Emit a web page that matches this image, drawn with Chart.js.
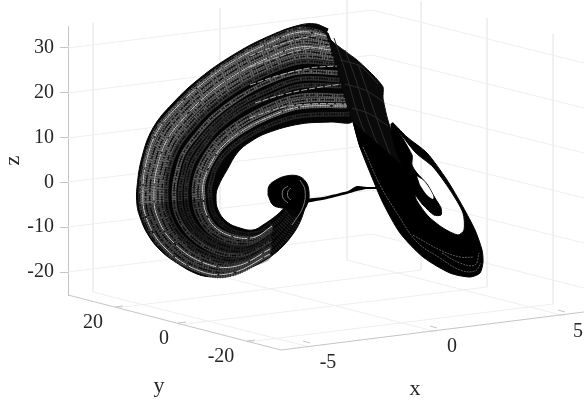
<!DOCTYPE html>
<html>
<head>
<meta charset="utf-8">
<style>
  html, body { margin: 0; background: #fff; }
  canvas { display: block; }
</style>
<script src="https://cdn.jsdelivr.net/npm/chart.js@4"></script>
</head>
<body>
<canvas id="attractor" width="584" height="404"></canvas>
<script>
// axis ticks and labels
const zTicks = [-20, -10, 0, 10, 20, 30];
const yTickLabels = ['20', '0', '-20'];
const xTickLabels = ['-5', '0', '5'];

// the 3d box, as projected on the picture plane [u, v]
const yTickSpots = [[93, 323], [164, 339], [221, 357]];
const xTickSpots = [[328, 363], [452, 347], [578, 332]];
const wallLines = [
  [[68, 48], [372, 10], [584, 63]],
  [[68, 93], [372, 55], [584, 108]],
  [[68, 138], [372, 100], [584, 153]],
  [[68, 182], [372, 145], [584, 198]],
  [[68, 227], [372, 190], [584, 243]],
  [[68, 272], [372, 234], [584, 288]],
  [[93, 23], [93, 292]], [[220, 8], [220, 276]], [[347, -8], [347, 260]],
  [[421, 1], [421, 270]], [[487, 18], [487, 287]], [[553, 34], [553, 304]],
  [[115, 308], [421, 270]], [[178, 325], [487, 287]], [[247, 342], [553, 304]],
  [[93, 292], [310, 347]], [[220, 276], [437, 332]], [[347, 260], [565, 316]]
];
const boxEdges = [
  [[68, 295], [281, 350], [584, 312]],
  [[115, 307], [123, 306]], [[178, 323], [186, 322]], [[247, 341], [255, 340]],
  [[310, 343], [303, 341]], [[437, 328], [430, 326]], [[565, 312], [558, 310]]
];

// outlines of the attractor
const bigWing = [
  [325, 28], [316, 24], [300, 25], [267, 37], [233, 55], [200, 78], [173, 103], [153, 128], [142, 157],
  [137, 187], [137, 205], [140, 217], [147, 233], [160, 250], [177, 263], [197, 274], [213, 277],
  [230, 276], [250, 268], [270, 257], [283, 246], [293, 234], [300, 222], [305, 208], [308, 198],
  [285, 208], [277, 215], [263, 225], [253, 230], [240, 228], [227, 222], [218, 210], [216, 197],
  [218, 187], [227, 170], [238, 152], [250, 142], [267, 133], [300, 124], [330, 122], [353, 121],
  [346, 97], [337, 57], [328, 33]
];
const wingPeak = [[328, 30], [316, 25.5], [300, 26.5], [284, 31]];
const lowerShade = [
  [139, 205], [147, 233], [160, 250], [177, 263], [197, 274], [213, 277], [230, 276], [250, 268],
  [272, 256], [272, 222], [253, 230], [240, 228], [227, 222], [218, 210], [216, 197]
];
const foldBand = [
  [317, 24], [333, 42], [357, 60], [373, 75], [383, 87], [383, 98], [387, 117], [391, 130],
  [397, 150], [404, 172], [405, 190], [387, 200], [373, 173], [360, 147], [353, 122], [345, 97], [335, 57], [327, 33]
];
const rightRing = [
  [353, 122], [360, 147], [371, 175], [383, 203], [400, 233], [423, 257], [450, 273], [470, 277],
  [480, 273], [483, 262], [482, 250], [475, 230], [463, 207], [447, 180], [427, 153], [407, 137],
  [393, 123],
  [415, 152], [433, 167], [450, 190], [463, 213], [464, 230], [458, 235], [443, 228], [428, 216],
  [417, 201], [415, 195], [423, 205], [434, 215], [441, 215], [441, 208], [435, 198], [427, 184],
  [417, 173], [412, 165], [412, 155],
  [393, 123], [391, 124], [392, 135], [396, 150], [402, 165]
];
const ringSlit = [[417, 176], [425, 182], [433, 195], [433, 199], [427, 195], [420, 185]];
const spiralBlob = [
  [268, 195], [269, 186], [276, 180], [286, 176], [298, 176], [306, 182], [309, 192], [308, 202],
  [303, 210], [292, 209], [282, 208], [273, 205], [268, 195]
];
const ribbon = [
  [305, 199], [323, 197], [340, 193], [348, 191], [357, 186], [367, 187], [380, 187],
  [378, 189], [367, 189], [357, 191], [347, 194], [327, 199], [305, 203]
];

// strands seen in the big wing, outer edge first
const wingStrands = [
  [[326, 33], [300, 28], [267, 40], [233, 58], [201, 81], [175, 106], [155, 130], [145, 158], [140, 187], [143, 217], [162, 249], [199, 272], [231, 275], [270, 255]],
  [[327, 36], [300, 32], [267, 44], [234, 61], [202, 84], [176, 108], [157, 132], [147, 159], [143, 188], [146, 217], [165, 248], [200, 271], [232, 273], [270, 254]],
  [[328, 41], [300, 37], [267, 49], [234, 66], [203, 88], [179, 112], [161, 135], [151, 161], [146, 188], [149, 216], [168, 247], [203, 269], [234, 270], [270, 253]],
  [[330, 45], [300, 42], [268, 53], [235, 70], [205, 92], [181, 115], [164, 137], [155, 163], [150, 189], [153, 216], [172, 245], [205, 266], [235, 268], [270, 251]],
  [[331, 50], [300, 47], [268, 58], [235, 75], [206, 96], [183, 119], [167, 140], [158, 164], [154, 189], [157, 216], [175, 244], [207, 264], [237, 266], [270, 249]],
  [[332, 55], [300, 52], [268, 63], [236, 80], [207, 100], [185, 122], [170, 143], [162, 166], [158, 190], [161, 216], [178, 243], [209, 262], [238, 263], [271, 247]],
  [[334, 59], [300, 57], [268, 68], [237, 84], [209, 105], [188, 126], [173, 146], [166, 168], [162, 190], [165, 215], [182, 241], [212, 260], [240, 261], [271, 245]],
  [[335, 64], [300, 62], [268, 73], [237, 89], [210, 109], [190, 130], [177, 148], [169, 169], [166, 191], [169, 215], [185, 240], [214, 257], [241, 259], [271, 243]],
  [[338, 73], [300, 72], [268, 82], [238, 98], [213, 117], [195, 137], [183, 154], [177, 173], [174, 192], [177, 215], [192, 237], [219, 253], [244, 254], [271, 240]],
  [[340, 80], [300, 79], [269, 90], [239, 105], [215, 124], [198, 143], [188, 158], [183, 175], [180, 193], [183, 214], [197, 235], [222, 249], [246, 250], [271, 237]],
  [[342, 86], [300, 86], [269, 97], [240, 111], [217, 129], [202, 148], [193, 162], [188, 177], [186, 193], [189, 214], [202, 233], [226, 246], [249, 247], [271, 234]],
  [[344, 96], [300, 96], [269, 106], [241, 121], [219, 138], [206, 155], [199, 168], [195, 181], [194, 194], [197, 213], [209, 231], [230, 242], [252, 242], [271, 230]],
  [[346, 100], [300, 101], [269, 111], [241, 125], [221, 142], [208, 158], [202, 170], [199, 182], [198, 195], [201, 213], [212, 229], [232, 239], [253, 240], [272, 229]],
  [[347, 106], [300, 107], [269, 117], [242, 131], [222, 147], [211, 163], [206, 174], [203, 184], [203, 195], [206, 213], [216, 228], [235, 237], [255, 237], [272, 226]],
  [[350, 114], [300, 116], [270, 125], [243, 139], [225, 154], [215, 169], [212, 179], [210, 187], [210, 196], [213, 212], [223, 225], [239, 233], [258, 233], [272, 223]]
];
const strandTones = ['#606060', '#787878', '#6c6c6c', '#707070', '#747474', '#6c6c6c', '#666666', '#3c3c3c', '#646464', '#343434', '#343434', '#5c5c5c', '#686868', '#707070', '#2a2a2a'];
const lightStrands = [1, 4, 13];

// brighter streaks at the top of the wing
const topStreaks = [
  [[250, 56], [270, 48], [295, 40], [322, 34]],
  [[250, 67], [275, 58], [300, 50], [330, 46]],
  [[250, 85], [280, 75], [310, 68], [338, 66]],
  [[255, 103], [285, 94], [315, 88], [342, 84]],
  [[250, 118], [280, 108], [310, 104], [346, 104]]
];

// dark end of the wing running into the spiral
const tailStrands = [
  [[270, 254], [285, 240], [299, 221]],
  [[271, 247], [284, 234], [296, 218]],
  [[271, 240], [283, 228], [293, 216]],
  [[271, 233], [282, 224], [290, 214]],
  [[272, 226], [280, 219], [287, 211]]
];

// hatch inside the fold
const foldStrands = [
  [[334, 38], [345, 70], [358, 115], [372, 150], [390, 190]],
  [[345, 50], [356, 80], [368, 120], [382, 155], [396, 185]],
  [[358, 64], [367, 90], [378, 122], [390, 155]],
  [[340, 60], [360, 66], [378, 84]],
  [[345, 84], [365, 90], [384, 102]],
  [[352, 108], [370, 114], [388, 126]]
];

// fainter strands in the lower ring and the spiral
const ringStrands = [
  [[363, 147], [380, 185], [397, 213], [417, 242], [440, 258], [460, 270], [475, 271], [481, 263]],
  [[442, 253], [460, 263], [475, 265], [479, 253]],
  [[413, 235], [440, 250], [460, 257], [474, 257]]
];
const spiralStrands = [
  [[288, 186], [283, 190], [283, 198], [288, 203]],
  [[291, 188], [288, 191], [288, 197], [291, 200]],
  [[300, 180], [305, 190], [303, 207], [292, 225]]
];

const pts = list => list.map(p => ({ x: p[0], y: p[1] }));
const joined = lists => lists.flatMap(l => [...pts(l), { x: NaN, y: NaN }]);

function shape(list, color, tension, edge) {
  return {
    data: pts(list), xAxisID: 'x', yAxisID: 'v', showLine: true, clip: false,
    fill: 'shape', backgroundColor: color, borderColor: color, borderWidth: edge,
    pointRadius: 0, tension: tension
  };
}
function stroke(data, color, width, dash, tension) {
  return {
    data: data, xAxisID: 'x', yAxisID: 'v', showLine: true, clip: false, fill: false,
    borderColor: color, borderWidth: width, borderDash: dash, pointRadius: 0, tension: tension
  };
}

// painter's order, chart.js wants the top one first
const layers = [
  stroke(joined(wallLines), '#eeeeee', 1, [], 0),
  stroke(joined(boxEdges), '#c4c4c4', 1, [], 0),
  shape(bigWing, '#050505', 0.4, 1),
  stroke(pts(wingPeak), '#050505', 3, [], 0.4)
];
wingStrands.forEach((s, i) => {
  layers.push(stroke(pts(s), strandTones[i], i === 0 ? 2.5 : 4.5, [], 0.4));
  layers.push(stroke(pts(s), 'rgba(0,0,0,0.55)', 4, [1, 1.5], 0.4));
  layers.push(stroke(pts(s), '#0c0c0c', 1.2, [5, 2, 2, 3, 9, 1, 3, 4], 0.4));
});
layers.push(shape(lowerShade, 'rgba(0,0,0,0.35)', 0.4, 0));
lightStrands.forEach(i => layers.push(stroke(pts(wingStrands[i]), '#c8c8c8', 1, [14, 3, 30, 2], 0.4)));
topStreaks.forEach(s => layers.push(stroke(pts(s), '#b0b0b0', 1, [6, 2], 0.4)));
tailStrands.forEach(s => layers.push(stroke(pts(s), '#262626', 3.5, [1, 1.5], 0.4)));
layers.push(shape(foldBand, '#0a0a0a', 0.2, 1));
layers.push(stroke(joined(foldStrands), '#2c2c2c', 1, [], 0.3));
layers.push(
  shape(rightRing, '#000000', 0.25, 1),
  shape(spiralBlob, '#000000', 0.4, 1),
  shape(ribbon, '#000000', 0.2, 0),
  shape(ringSlit, '#ffffff', 0.3, 0)
);
ringStrands.forEach(s => layers.push(stroke(pts(s), '#5c5c5c', 1, [2, 1], 0.4)));
spiralStrands.forEach(s => layers.push(stroke(pts(s), '#777777', 1, [], 0.4)));

const serif = '"Liberation Serif", serif';
const boxText = {
  id: 'boxText',
  afterDraw(chart) {
    const { ctx, scales } = chart;
    const put = (txt, u, v, size) => {
      ctx.font = size + 'px ' + serif;
      ctx.fillText(txt, scales.x.getPixelForValue(u), scales.v.getPixelForValue(v));
    };
    ctx.save();
    ctx.fillStyle = '#262626';
    ctx.textAlign = 'center';
    ctx.textBaseline = 'middle';
    yTickLabels.forEach((t, i) => put(t, yTickSpots[i][0], yTickSpots[i][1], 20));
    xTickLabels.forEach((t, i) => put(t, xTickSpots[i][0], xTickSpots[i][1], 20));
    put('y', 159, 386, 22);
    put('x', 415, 389, 22);
    ctx.restore();
  }
};

new Chart(document.getElementById('attractor'), {
  type: 'scatter',
  data: { datasets: layers.reverse() },
  plugins: [boxText],
  options: {
    responsive: false,
    animation: false,
    layout: { padding: { top: 26, bottom: 109, left: 0, right: 0 } },
    plugins: { legend: { display: false }, tooltip: { enabled: false } },
    scales: {
      x: { type: 'linear', min: 68, max: 584, display: false },
      v: { type: 'linear', min: 26, max: 295, reverse: true, display: false },
      y: {
        type: 'linear',
        position: 'left',
        min: -25.1,
        max: 34.8,
        afterBuildTicks: axis => { axis.ticks = zTicks.map(value => ({ value })); },
        afterFit: axis => { axis.width = 68; },
        border: { color: '#c4c4c4' },
        grid: { drawOnChartArea: false, color: '#c4c4c4', tickLength: 8 },
        ticks: { padding: 6, color: '#262626', font: { family: serif, size: 20 }, callback: v => String(v) },
        title: { display: true, text: 'z', color: '#262626', font: { family: serif, size: 22 }, padding: 0 }
      }
    }
  }
});
</script>
</body>
</html>
